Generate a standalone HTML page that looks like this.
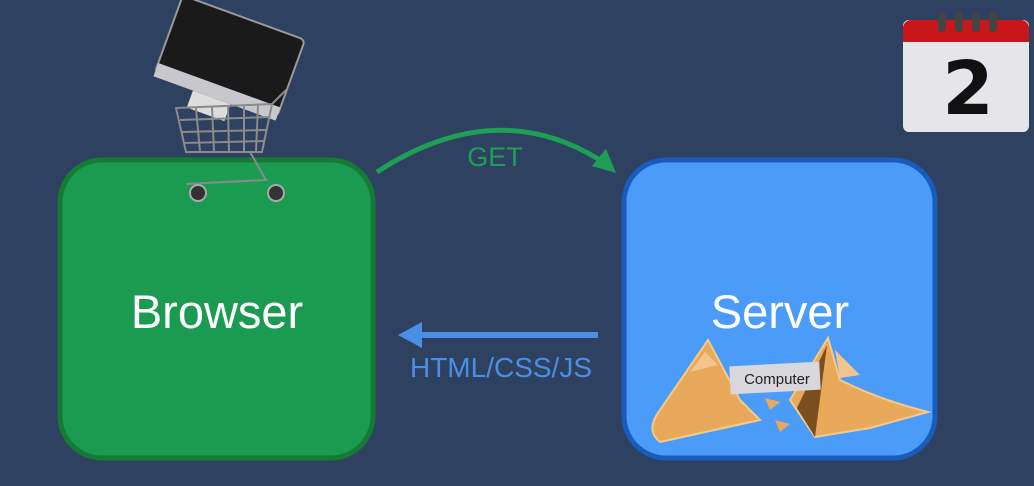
<!DOCTYPE html>
<html><head><style>body{margin:0;background:#2f4160}svg{display:block}</style></head><body>
<svg width="1034" height="486" viewBox="0 0 1034 486" xmlns="http://www.w3.org/2000/svg" font-family="Liberation Sans, sans-serif">
<rect width="1034" height="486" fill="#2f4160"/>
<rect x="60" y="160" width="313" height="298" rx="42" fill="#1b9b52" stroke="#157a33" stroke-width="5"/>
<rect x="624" y="160" width="311" height="298" rx="42" fill="#4a9cf8" stroke="#1a5cbc" stroke-width="5"/>
<text x="217" y="328" font-size="47" fill="#fff" text-anchor="middle">Browser</text>
<text x="780" y="328" font-size="47" fill="#fff" text-anchor="middle">Server</text>
<path d="M377 172 Q495 95 600 160" fill="none" stroke="#1f9e56" stroke-width="5"/>
<polygon points="616,173 592,166 606,149" fill="#1f9e56"/>
<text x="495" y="166" font-size="27" fill="#1f9e56" text-anchor="middle">GET</text>
<line x1="598" y1="335" x2="418" y2="335" stroke="#4a8fe6" stroke-width="6"/>
<polygon points="398,335 422,322 422,348" fill="#4a8fe6"/>
<text x="501" y="377" font-size="28" fill="#4a8fe6" text-anchor="middle">HTML/CSS/JS</text>
<!-- monitor + cart -->
<g transform="rotate(20 220 60)">
<rect x="163" y="12" width="130" height="82" rx="5" fill="#1a1a1a" stroke="#999" stroke-width="2"/>
<rect x="163" y="84" width="130" height="14" fill="#c8c8cc"/>
<rect x="205" y="98" width="40" height="18" fill="#ddd"/>
</g>
<g stroke="#8a8a8a" stroke-width="2" fill="none">
<path d="M176 108 L272 104 L262 152 L186 152 Z"/>
<path d="M180 120 L270 117 M182 132 L267 130 M184 143 L264 141"/>
<path d="M196 108 L200 152 M212 107 L214 152 M228 106 L229 152 M244 106 L244 152 M258 105 L256 152"/>
<path d="M272 104 L286 90 M250 152 L266 180 L186 184"/>
</g>
<circle cx="198" cy="193" r="8" fill="#333" stroke="#aaa" stroke-width="2"/>
<circle cx="276" cy="193" r="8" fill="#333" stroke="#aaa" stroke-width="2"/>
<!-- fortune cookie -->
<path d="M708 340 L740 400 L760 420 L660 442 Q645 430 660 410 Z" fill="#e9a95b" stroke="#f5c98a" stroke-width="2"/>
<path d="M828 338 L840 380 Q880 400 928 412 L870 428 L815 437 L790 400 Z" fill="#e9a95b" stroke="#f5c98a" stroke-width="2"/>
<path d="M827 345 L797 408 L815 437 Z" fill="#7a4f20"/>
<path d="M705 352 L718 365 L690 372 Z" fill="#f3c48c"/>
<path d="M835 350 L860 375 L840 378 Z" fill="#f3c48c"/>
<rect x="730" y="364" width="90" height="28" fill="#d8d8dc" transform="rotate(-3 775 378)"/>
<text x="777" y="384" font-size="15" fill="#222" text-anchor="middle">Computer</text>
<polygon points="765,398 780,402 770,410" fill="#e9a95b"/>
<polygon points="775,420 790,424 780,432" fill="#e9a95b"/>
<!-- calendar -->
<rect x="903" y="20" width="126" height="112" rx="6" fill="#e6e6ea"/>
<path d="M903 42 V28 a8 8 0 0 1 8 -8 H1021 a8 8 0 0 1 8 8 V42 Z" fill="#c8161b"/>
<g fill="#444"><rect x="938" y="12" width="8" height="20" rx="4"/><rect x="955" y="12" width="8" height="20" rx="4"/><rect x="972" y="12" width="8" height="20" rx="4"/><rect x="989" y="12" width="8" height="20" rx="4"/></g>
<text x="968" y="114" font-size="74" font-weight="bold" fill="#111" text-anchor="middle" font-family="DejaVu Sans, sans-serif">2</text>
</svg>
</body></html>
